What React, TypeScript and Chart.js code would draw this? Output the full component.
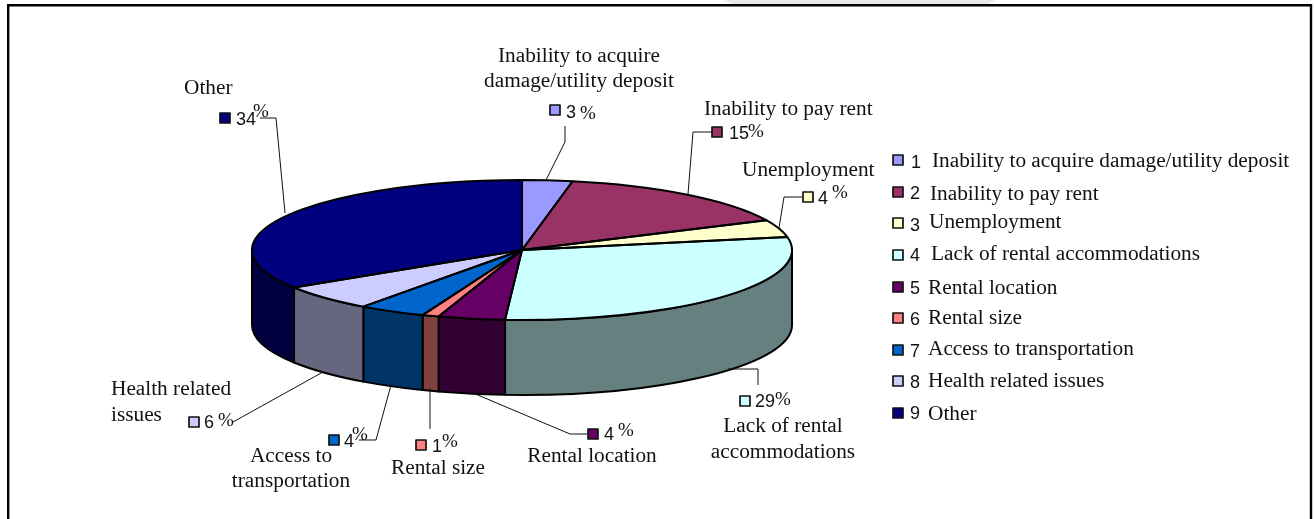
import React, { useEffect, useRef } from "react";
import { Chart, registerables } from "chart.js";

Chart.register(...registerables);

const categories = [
  "Inability to acquire damage/utility deposit",
  "Inability to pay rent",
  "Unemployment",
  "Lack of rental accommodations",
  "Rental location",
  "Rental size",
  "Access to transportation",
  "Health related issues",
  "Other",
];
const shares = [3, 15, 4, 29, 4, 1, 4, 6, 34];
const topColours = ["#9999FF", "#993366", "#FFFFCC", "#CCFFFF", "#660066", "#FF8080", "#0066CC", "#CCCCFF", "#000080"];
const wallColours = ["#4D4D80", "#4D1A33", "#808066", "#668080", "#330033", "#804040", "#003366", "#666680", "#000040"];

const SERIF = "'Liberation Serif', serif";
const SANS = "'Liberation Sans', sans-serif";
const TEXT_PX = 21.3;
const NUM_PX = 18;
const PCT_PX = 19;

const CX = 522, CY = 250, RX = 270, RY = 70, DEPTH = 75;

// legend rows: swatch centre y, number x & baseline, text x & baseline
const legendRows = [
  { sy: 160, nx: 911, ny: 168, tx: 932, ty: 167 },
  { sy: 192, nx: 910, ny: 199, tx: 930, ty: 200 },
  { sy: 223, nx: 910, ny: 231, tx: 929, ty: 228 },
  { sy: 255, nx: 910, ny: 261, tx: 931, ty: 260 },
  { sy: 287, nx: 910, ny: 294, tx: 928, ty: 294 },
  { sy: 318, nx: 910, ny: 325, tx: 928, ty: 324 },
  { sy: 350, nx: 910, ny: 357, tx: 928, ty: 355 },
  { sy: 381, nx: 910, ny: 388, tx: 928, ty: 387 },
  { sy: 413, nx: 910, ny: 419, tx: 928, ty: 420 },
];

type Call = {
  lines: string[]; align: CanvasTextAlign; lx: number; ly: number[];
  sx: number; sy: number; nx: number; ny: number; px: number; py: number;
  leader: number[][];
};
const callouts: Call[] = [
  { lines: ["Inability to acquire", "damage/utility deposit"], align: "center", lx: 579, ly: [62, 87], sx: 555, sy: 110, nx: 566, ny: 118, px: 580, py: 119,
    leader: [[565, 126], [565, 142], [546, 180]] },
  { lines: ["Inability to pay rent"], align: "left", lx: 704, ly: [115], sx: 717, sy: 132, nx: 729, ny: 139, px: 748, py: 137,
    leader: [[712, 132], [693, 132], [688, 194]] },
  { lines: ["Unemployment"], align: "left", lx: 742, ly: [176], sx: 808, sy: 197, nx: 818, ny: 204, px: 832, py: 198,
    leader: [[802, 197], [784, 197], [779, 228]] },
  { lines: ["Lack of rental", "accommodations"], align: "center", lx: 783, ly: [432, 458], sx: 745, sy: 401, nx: 755, ny: 407, px: 775, py: 405,
    leader: [[758, 385], [758, 369], [728, 369]] },
  { lines: ["Rental location"], align: "center", lx: 592, ly: [462], sx: 593, sy: 434, nx: 604, ny: 440, px: 618, py: 436,
    leader: [[587, 434], [570, 434], [473, 393]] },
  { lines: ["Rental size"], align: "center", lx: 438, ly: [474], sx: 421, sy: 445, nx: 432, ny: 452, px: 442, py: 447,
    leader: [[430, 429], [430, 388]] },
  { lines: ["Access to", "transportation"], align: "center", lx: 291, ly: [462, 487], sx: 334, sy: 440, nx: 344, ny: 447, px: 352, py: 440,
    leader: [[359, 440], [376, 440], [391, 385]] },
  { lines: ["Health related", "issues"], align: "left", lx: 111, ly: [395, 421], sx: 194, sy: 422, nx: 204, ny: 428, px: 218, py: 426,
    leader: [[233, 422], [323, 372]] },
  { lines: ["Other"], align: "left", lx: 184, ly: [94], sx: 225, sy: 118, nx: 236, ny: 125, px: 253, py: 117,
    leader: [[260, 118], [276, 118], [285, 213]] },
];

const swatch = (ctx: CanvasRenderingContext2D, cx: number, cy: number, colour: string) => {
  ctx.fillStyle = colour;
  ctx.fillRect(cx - 5, cy - 5, 10, 10);
  ctx.strokeStyle = "#111";
  ctx.lineWidth = 1.7;
  ctx.strokeRect(cx - 5, cy - 5, 10, 10);
};

const pie3d = {
  id: "pie3d",
  beforeDraw(chart: any) {
    const ctx: CanvasRenderingContext2D = chart.ctx;
    ctx.save();
    ctx.fillStyle = "#fff";
    ctx.fillRect(0, 0, chart.width, chart.height);
    // grey scan smudge above the frame
    ctx.fillStyle = "#ECE8E8";
    ctx.beginPath();
    ctx.moveTo(723, 0); ctx.lineTo(996, 0); ctx.lineTo(986, 5); ctx.lineTo(735, 5); ctx.closePath();
    ctx.fill();
    // frame, open at the bottom
    ctx.strokeStyle = "#000";
    ctx.lineWidth = 2.4;
    ctx.beginPath();
    ctx.moveTo(8.2, chart.height); ctx.lineTo(8.2, 5.2); ctx.lineTo(1311, 5.2); ctx.lineTo(1311, chart.height);
    ctx.stroke();
    ctx.restore();
  },
  beforeDatasetsDraw(chart: any) {
    const ctx: CanvasRenderingContext2D = chart.ctx;
    const arcs = chart.getDatasetMeta(0).data;
    // side walls, taken from the arc elements' angles
    ctx.save();
    ctx.lineJoin = "round";
    arcs.forEach((arc: any, i: number) => {
      const a0 = Math.max(arc.startAngle, 0);
      const a1 = Math.min(arc.endAngle, Math.PI);
      if (a1 <= a0) return;
      ctx.beginPath();
      ctx.ellipse(CX, CY, RX, RY, 0, a0, a1);
      ctx.ellipse(CX, CY + DEPTH, RX, RY, 0, a1, a0, true);
      ctx.closePath();
      ctx.fillStyle = wallColours[i];
      ctx.fill();
      ctx.strokeStyle = "#000";
      ctx.lineWidth = 2;
      ctx.stroke();
    });
    ctx.restore();
    // squash the pie into an ellipse
    const a = arcs[0];
    ctx.save();
    ctx.translate(CX, CY);
    ctx.scale(RX / a.outerRadius, RY / a.outerRadius);
    ctx.translate(-a.x, -a.y);
  },
  afterDatasetsDraw(chart: any) {
    const ctx: CanvasRenderingContext2D = chart.ctx;
    ctx.restore();
    const arcs = chart.getDatasetMeta(0).data;
    ctx.save();
    ctx.strokeStyle = "#000";
    ctx.lineWidth = 2;
    ctx.lineJoin = "round";
    arcs.forEach((arc: any) => {
      ctx.beginPath();
      ctx.moveTo(CX, CY);
      ctx.ellipse(CX, CY, RX, RY, 0, arc.startAngle, arc.endAngle);
      ctx.closePath();
      ctx.stroke();
    });

    // callouts
    ctx.textAlign = "left";
    ctx.textBaseline = "alphabetic";
    callouts.forEach((c, i) => {
      ctx.strokeStyle = "#111";
      ctx.lineWidth = 1;
      ctx.beginPath();
      c.leader.forEach(([x, y], k) => (k ? ctx.lineTo(x, y) : ctx.moveTo(x, y)));
      ctx.stroke();
      swatch(ctx, c.sx, c.sy, topColours[i]);
      ctx.fillStyle = "#111";
      ctx.textAlign = c.align;
      ctx.font = `${TEXT_PX}px ${SERIF}`;
      c.lines.forEach((t, k) => ctx.fillText(t, c.lx, c.ly[k]));
      ctx.textAlign = "left";
      ctx.font = `${NUM_PX}px ${SANS}`;
      ctx.fillText(String(shares[i]), c.nx, c.ny);
      ctx.font = `${PCT_PX}px ${SERIF}`;
      ctx.fillText("%", c.px, c.py);
    });

    // legend
    legendRows.forEach((r, i) => {
      swatch(ctx, 898, r.sy, topColours[i]);
      ctx.fillStyle = "#111";
      ctx.font = `${NUM_PX}px ${SANS}`;
      ctx.fillText(String(i + 1), r.nx, r.ny);
      ctx.font = `${TEXT_PX}px ${SERIF}`;
      ctx.fillText(categories[i], r.tx, r.ty);
    });
    ctx.restore();
  },
};

export default function App() {
  const ref = useRef<HTMLCanvasElement>(null);
  useEffect(() => {
    const chart = new Chart(ref.current!, {
      type: "pie",
      data: {
        labels: categories,
        datasets: [{ data: shares, backgroundColor: topColours, borderWidth: 0, clip: false } as any],
      },
      options: {
        responsive: false,
        animation: false,
        layout: { padding: 0 },
        plugins: { legend: { display: false }, tooltip: { enabled: false } },
      },
      plugins: [pie3d],
    });
    return () => chart.destroy();
  }, []);
  return (
    <div style={{ position: "fixed", left: 0, top: 0, width: 1314, height: 519 }}>
      <canvas ref={ref} width={1314} height={519} style={{ display: "block" }} />
    </div>
  );
}
